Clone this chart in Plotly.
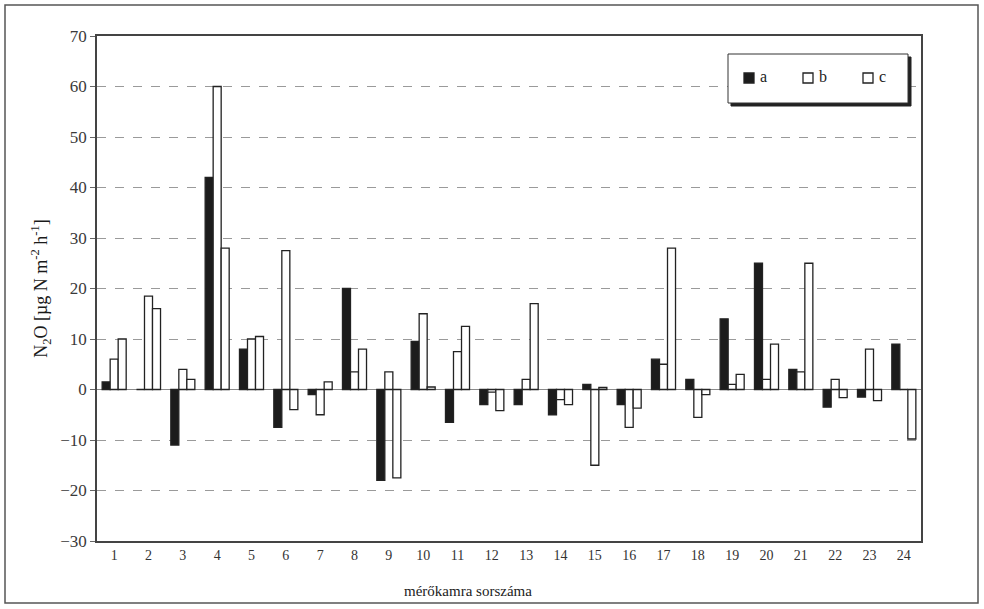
import plotly.graph_objects as go

# Chamber numbers (x categories)
chambers = [str(i) for i in range(1, 25)]

# N2O flux per chamber for the three series
series_a = [1.5, 0, -11, 42, 8, -7.5, -1, 20, -18, 9.5, -6.5, -3,
            -3, -5, 1, -3, 6, 2, 14, 25, 4, -3.5, -1.5, 9]
series_b = [6, 18.5, 4, 60, 10, 27.5, -5, 3.5, 3.5, 15, 7.5, -0.5,
            2, -2, -15, -7.5, 5, -5.5, 1, 2, 3.5, 2, 8, 0]
series_c = [10, 16, 2, 28, 10.5, -4, 1.5, 8, -17.5, 0.5, 12.5, -4.2,
            17, -3, 0.4, -3.7, 28, -1, 3, 9, 25, -1.6, -2.2, -9.8]

series_names = ["a", "b", "c"]
series_fill = ["#1c1c1c", "white", "white"]

y_ticks = list(range(-30, 71, 10))

W, H = 984, 609
L, R, T, B = 97, 63, 36, 68
pw, ph = W - L - R, H - T - B

serif = "Liberation Serif, Times New Roman, serif"

fig = go.Figure()
for name, vals, fill in zip(series_names, [series_a, series_b, series_c], series_fill):
    fig.add_bar(name=name, x=chambers, y=vals, showlegend=False,
                marker=dict(color=fill, line=dict(color="#222222", width=1.3)))


def px_x(px):
    return (px - L) / pw


def px_y(py):
    return (H - B - py) / ph


def rect(x0, y0, x1, y1, fill, line="#222222", width=1, layer="above"):
    return dict(type="rect", xref="paper", yref="paper",
                x0=px_x(x0), x1=px_x(x1), y0=px_y(y1), y1=px_y(y0),
                line=dict(color=line, width=width), fillcolor=fill, layer=layer)


shapes = [
    # outer frame of the figure
    rect(5, 5, 978, 603, "rgba(0,0,0,0)", line="#555555", width=1.5, layer="below"),
    # legend box with its drop shadow
    rect(731, 57, 911, 106, "#222222"),
    rect(728, 54, 908, 103, "white", line="#333333", width=1),
]

annotations = [
    dict(text="mérőkamra sorszáma", xref="paper", yref="paper",
         x=px_x(468), y=px_y(591), xanchor="center", yanchor="middle",
         showarrow=False, font=dict(family=serif, size=15, color="#222222")),
]

# legend entries: swatch + label
swatch_x = [744, 803, 863]
for name, fill, sx in zip(series_names, series_fill, swatch_x):
    shapes.append(rect(sx, 73, sx + 10, 83, fill, line="#222222", width=1.3))
    annotations.append(dict(text=name, xref="paper", yref="paper",
                            x=px_x(sx + 14), y=px_y(77), xanchor="left", yanchor="middle",
                            showarrow=False,
                            font=dict(family=serif, size=16, color="#222222")))

fig.update_layout(
    width=W, height=H,
    margin=dict(l=L, r=R, t=T, b=B, autoexpand=False),
    paper_bgcolor="white", plot_bgcolor="white",
    barmode="group", bargap=0.3, bargroupgap=0,
    font=dict(family=serif, color="#333333"),
    showlegend=False,
    shapes=shapes,
    annotations=annotations,
    xaxis=dict(showgrid=False, showline=True, linecolor="#444444", linewidth=1.5,
               mirror=True, ticks="", tickfont=dict(family=serif, size=14, color="#333333"),
               tickangle=0),
    yaxis=dict(range=[-30, 70], tickvals=y_ticks, showline=True, linecolor="#444444",
               linewidth=1.5, mirror=True, ticks="outside", ticklen=5, tickcolor="#666666",
               tickfont=dict(family=serif, size=17, color="#3a3a3a"),
               showgrid=True, gridcolor="#9a9a9a", griddash="dash", gridwidth=1,
               zeroline=True, zerolinecolor="#8a8a8a", zerolinewidth=1,
               title=dict(text="N<sub>2</sub>O [µg N m<sup>-2</sup> h<sup>-1</sup>]",
                          font=dict(family=serif, size=18, color="#1a1a1a"), standoff=8)),
)

fig.write_html("out.html")
